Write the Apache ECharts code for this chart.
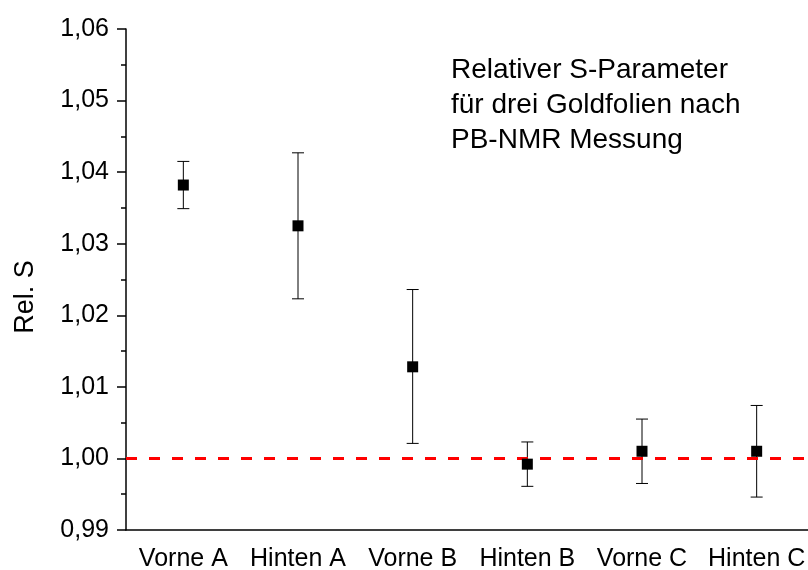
<!DOCTYPE html>
<html>
<head>
<meta charset="utf-8">
<script src="https://cdn.jsdelivr.net/npm/echarts@6/dist/echarts.min.js"></script>
<style>html,body{margin:0;padding:0;background:#fff}#c{width:808px;height:570px}</style>
</head>
<body>
<div id="c"></div>
<script>
const categories = ['Vorne A', 'Hinten A', 'Vorne B', 'Hinten B', 'Vorne C', 'Hinten C'];
const values = [1.0382, 1.0325, 1.0128, 0.9992, 1.0010, 1.0010];
const errLow = [1.0349, 1.0223, 1.0021, 0.9961, 0.9965, 0.9946];
const errHigh = [1.0415, 1.0427, 1.0236, 1.0023, 1.0055, 1.0074];
const refLine = 1.00;
const yTicks = [0.99, 1.00, 1.01, 1.02, 1.03, 1.04, 1.05, 1.06];
const yTitle = 'Rel. S';
const annotation = ['Relativer S-Parameter', 'für drei Goldfolien nach', 'PB-NMR Messung'];

const FONT = '"Liberation Sans", Arial, sans-serif';
const chart = echarts.init(document.getElementById('c'), null, {renderer: 'canvas'});

const errData = categories.map((c, i) => [i, errLow[i], errHigh[i]]);

chart.setOption({
  animation: false,
  backgroundColor: '#fff',
  grid: {left: 126, top: 29, bottom: 40, right: -6, containLabel: false, outerBoundsMode: 'none'},
  xAxis: {
    type: 'category',
    data: categories,
    boundaryGap: true,
    axisLine: {lineStyle: {color: '#000', width: 1.5}},
    axisTick: {alignWithLabel: true, length: 9, lineStyle: {color: '#000', width: 1.5}},
    axisLabel: {color: '#000', fontSize: 25, fontFamily: FONT, margin: 17, interval: 0},
    splitLine: {show: false}
  },
  yAxis: {
    type: 'value',
    min: yTicks[0],
    max: yTicks[yTicks.length - 1],
    interval: 0.01,
    axisLine: {show: true, lineStyle: {color: '#000', width: 1.5}},
    axisTick: {show: true, length: 9, lineStyle: {color: '#000', width: 1.5}},
    minorTick: {show: true, splitNumber: 2, length: 5, lineStyle: {color: '#000', width: 1.5}},
    axisLabel: {color: '#000', fontSize: 25, fontFamily: FONT, margin: 17,
      formatter: v => v.toFixed(2).replace('.', ',')},
    splitLine: {show: false}
  },
  graphic: [{
    type: 'text',
    left: 451,
    top: 53,
    style: {
      text: annotation.join('\n'),
      fill: '#000',
      font: '28px ' + FONT,
      lineHeight: 35
    }
  }, {
    type: 'text',
    x: 26,
    y: 297,
    rotation: Math.PI / 2,
    style: {
      text: yTitle,
      fill: '#000',
      font: '27px ' + FONT,
      align: 'center',
      verticalAlign: 'middle'
    }
  }],
  series: [
    {
      type: 'custom',
      data: errData,
      z: 2,
      renderItem: function (params, api) {
        const x = api.value(0);
        const lo = api.coord([x, api.value(1)]);
        const hi = api.coord([x, api.value(2)]);
        const hw = 6;
        const style = {stroke: '#000', lineWidth: 1};
        return {
          type: 'group',
          children: [
            {type: 'line', shape: {x1: lo[0], y1: lo[1], x2: hi[0], y2: hi[1]}, style},
            {type: 'line', shape: {x1: lo[0] - hw, y1: lo[1], x2: lo[0] + hw, y2: lo[1]}, style},
            {type: 'line', shape: {x1: hi[0] - hw, y1: hi[1], x2: hi[0] + hw, y2: hi[1]}, style}
          ]
        };
      }
    },
    {
      type: 'scatter',
      data: values,
      symbol: 'rect',
      symbolSize: 11,
      z: 4,
      itemStyle: {color: '#000', opacity: 1},
      markLine: {
        silent: true,
        symbol: 'none',
        label: {show: false},
        z: 3,
        lineStyle: {color: '#ff0000', type: [11, 12], width: 3, opacity: 1},
        data: [{yAxis: refLine}]
      }
    }
  ]
});
</script>
</body>
</html>
